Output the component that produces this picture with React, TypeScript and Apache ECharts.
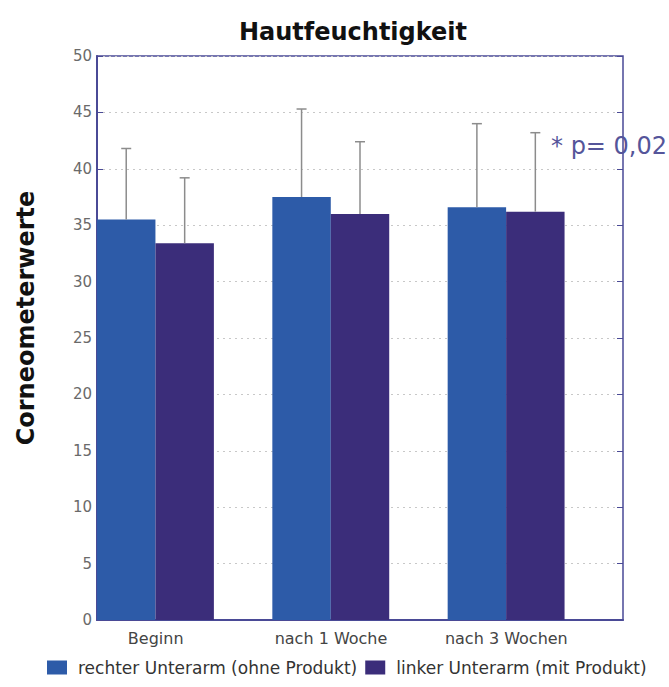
import React, { useEffect, useRef } from "react";
import * as echarts from "echarts";

const categories = ["Beginn", "nach 1 Woche", "nach 3 Wochen"];
const rightArm = [35.5, 37.5, 36.6];
const rightArmUpper = [41.8, 45.3, 44.0];
const leftArm = [33.4, 36.0, 36.2];
const leftArmUpper = [39.2, 42.4, 43.2];
const seriesNames = ["rechter Unterarm (ohne Produkt)", "linker Unterarm (mit Produkt)"];
const titleText = "Hautfeuchtigkeit";
const yName = "Corneometerwerte";
const annotation = "* p= 0,02";

const FONT = "DejaVu Sans";
const BLUE = "#2d5ba8";
const PURPLE = "#3b2d7a";
const AXIS = "#4a4a96";

function errorRender(offsetFrac: number) {
  return (params: any, api: any) => {
    const idx = api.value(0);
    const mean = api.value(1);
    const upper = api.value(2);
    const band = api.size([1, 0])[0];
    const p0 = api.coord([idx, mean]);
    const p1 = api.coord([idx, upper]);
    const x = p0[0] + offsetFrac * band;
    const style = { stroke: "#8c8c8c", lineWidth: 1.5 };
    return {
      type: "group",
      children: [
        { type: "line", shape: { x1: x, y1: p0[1], x2: x, y2: p1[1] }, style },
        { type: "line", shape: { x1: x - 5, y1: p1[1], x2: x + 5, y2: p1[1] }, style },
      ],
    };
  };
}

export default function App() {
  const ref = useRef<HTMLDivElement>(null);
  useEffect(() => {
    if (!ref.current) return;
    const chart = echarts.init(ref.current, null, { renderer: "svg" });
    chart.setOption({
      animation: false,
      backgroundColor: "#ffffff",
      textStyle: { fontFamily: FONT },
      grid: {
        left: 97,
        right: 46,
        top: 56,
        bottom: 67,
        show: true,
        borderColor: AXIS,
        borderWidth: 1.5,
        backgroundColor: "transparent",
      },
      legend: {
        data: seriesNames,
        left: 42,
        top: 654,
        itemWidth: 20,
        itemHeight: 14,
        itemGap: 8,
        icon: "rect",
        textStyle: { fontFamily: FONT, fontSize: 17, color: "#333", padding: [0, 0, 0, 6] },
      },
      xAxis: {
        type: "category",
        data: categories,
        axisLine: { show: true, lineStyle: { color: AXIS, width: 2 } },
        axisTick: { show: false },
        axisLabel: {
          fontFamily: FONT,
          fontSize: 16,
          color: "#444",
          margin: 10,
          padding: [0, 58, 0, 0],
        },
        splitLine: { show: false },
      },
      yAxis: [
        {
          type: "value",
          min: 0,
          max: 50,
          interval: 5,
          axisLine: { show: true, lineStyle: { color: AXIS, width: 2 } },
          axisTick: { show: true, inside: true, length: 6, lineStyle: { color: AXIS } },
          axisLabel: { fontFamily: FONT, fontSize: 15, color: "#6a6a6a", margin: 5 },
          splitLine: { show: true, lineStyle: { color: "#c8c8c8", type: [2, 4], width: 1 } },
        },
        {
          type: "value",
          position: "right",
          min: 0,
          max: 50,
          interval: 5,
          axisLine: { show: false },
          axisTick: { show: true, inside: true, length: 6, lineStyle: { color: AXIS } },
          axisLabel: { show: false },
          splitLine: { show: false },
        },
      ],
      series: [
        {
          name: seriesNames[0],
          type: "bar",
          data: rightArm,
          barGap: "0%",
          barCategoryGap: "0%",
          itemStyle: { color: BLUE },
        },
        {
          name: seriesNames[1],
          type: "bar",
          data: leftArm,
          barGap: "0%",
          barCategoryGap: "0%",
          itemStyle: { color: PURPLE },
        },
        {
          name: "spacer",
          type: "bar",
          data: categories.map(() => 0),
          barGap: "0%",
          barCategoryGap: "0%",
          silent: true,
          itemStyle: { color: "rgba(0,0,0,0)" },
        },
        {
          name: "err-right",
          type: "custom",
          renderItem: errorRender(-1 / 3),
          data: categories.map((_, i) => [i, rightArm[i], rightArmUpper[i]]),
          encode: { x: 0, y: [1, 2] },
          z: 5,
          silent: true,
        },
        {
          name: "err-left",
          type: "custom",
          renderItem: errorRender(0),
          data: categories.map((_, i) => [i, leftArm[i], leftArmUpper[i]]),
          encode: { x: 0, y: [1, 2] },
          z: 5,
          silent: true,
        },
      ],
      graphic: [
        {
          type: "text",
          x: 353,
          y: 32,
          style: {
            text: titleText,
            fontFamily: FONT,
            fontSize: 24,
            fontWeight: "bold",
            fill: "#111",
            align: "center",
            verticalAlign: "middle",
          },
        },
        {
          type: "text",
          x: 26,
          y: 318,
          rotation: Math.PI / 2,
          style: {
            text: yName,
            fontFamily: FONT,
            fontSize: 24,
            fontWeight: "bold",
            fill: "#111",
            align: "center",
            verticalAlign: "middle",
          },
        },
        {
          type: "text",
          x: 551,
          y: 146,
          z: 10,
          style: {
            text: annotation,
            fontFamily: FONT,
            fontSize: 24,
            fill: "#55559a",
            align: "left",
            verticalAlign: "middle",
          },
        },
      ],
    });
    return () => chart.dispose();
  }, []);
  return (
    <div
      ref={ref}
      style={{ position: "fixed", left: 0, top: 0, width: 669, height: 687, background: "#fff" }}
    />
  );
}
